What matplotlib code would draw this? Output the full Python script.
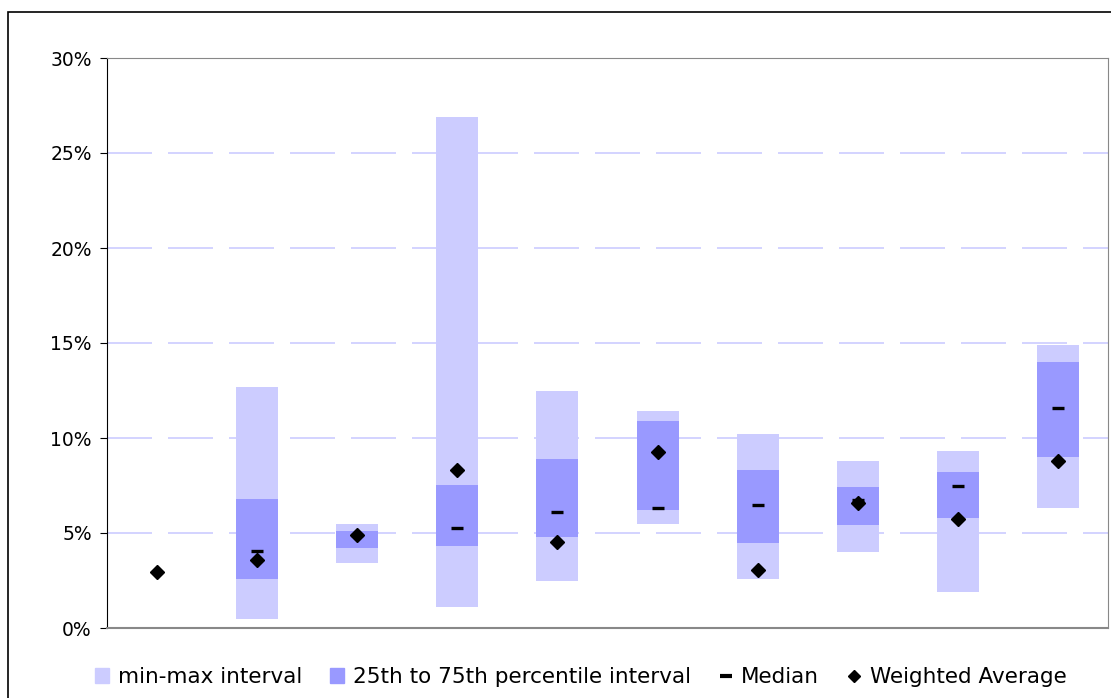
import numpy as np
import matplotlib.pyplot as plt
from matplotlib.patches import Patch, Rectangle
from matplotlib.lines import Line2D
from matplotlib.ticker import PercentFormatter

# values in % (first group only has a weighted average)
mins    = [np.nan, 0.5, 3.4, 1.1, 2.5, 5.5, 2.6, 4.0, 1.9, 6.3]
maxs    = [np.nan, 12.7, 5.5, 26.9, 12.5, 11.4, 10.2, 8.8, 9.3, 14.9]
q25     = [np.nan, 2.6, 4.2, 4.3, 4.8, 6.2, 4.5, 5.4, 5.8, 9.0]
q75     = [np.nan, 6.8, 5.1, 7.5, 8.9, 10.9, 8.3, 7.4, 8.2, 14.0]
medians = [np.nan, 4.05, 4.9, 5.25, 6.1, 6.3, 6.45, 6.75, 7.5, 11.6]
wavg    = [2.95, 3.6, 4.9, 8.3, 4.55, 9.25, 3.05, 6.6, 5.75, 8.8]

light = '#CCCCFF'
dark = '#9999FF'

x = np.arange(len(wavg))
mins, maxs, q25, q75 = map(np.array, (mins, maxs, q25, q75))

fig = plt.figure(figsize=(11.11, 6.98), dpi=100)
ax = fig.add_axes([107/1111, 70/698, 1001/1111, 570/698])

# outer chart frame
fig.patches.append(Rectangle((8/1111, -0.05), 1.2, (698-12)/698 + 0.05,
                             transform=fig.transFigure, fill=False,
                             edgecolor='black', lw=1.2))

ax.bar(x, maxs - mins, bottom=mins, width=0.42, color=light, zorder=2)
ax.bar(x, q75 - q25, bottom=q25, width=0.42, color=dark, zorder=3)
ax.plot(x, medians, ls='none', marker='_', ms=9, mew=2.4, color='black', zorder=4)
ax.plot(x, wavg, ls='none', marker='D', ms=7, color='black', zorder=5)

ax.set_xlim(-0.5, 9.5)
ax.set_ylim(0, 30)
ax.set_yticks(range(0, 31, 5))
ax.yaxis.set_major_formatter(PercentFormatter(decimals=0))
ax.set_xticks([])
ax.tick_params(axis='y', labelsize=13.5, length=5, direction='out', pad=6)
ax.grid(axis='y', color=light, ls=(0, (27, 9.6)), lw=1.2, zorder=0)

ax.spines['left'].set_color('black')
for s in ('top', 'right', 'bottom'):
    ax.spines[s].set_color('#888888')
ax.spines['bottom'].set_linewidth(1.5)

handles = [
    Patch(color=light, label='min-max interval'),
    Patch(color=dark, label='25th to 75th percentile interval'),
    Line2D([], [], ls='none', marker='_', ms=9, mew=3, color='black', label='Median'),
    Line2D([], [], ls='none', marker='D', ms=6, color='black', label='Weighted Average'),
]
fig.legend(handles=handles, loc='center', bbox_to_anchor=(581/1111, 1 - 677/698),
           ncol=4, frameon=False, fontsize=15.5, handlelength=0.65, handleheight=0.65,
           handletextpad=0.4, columnspacing=1.3)

fig.savefig('out.png', dpi=100)
